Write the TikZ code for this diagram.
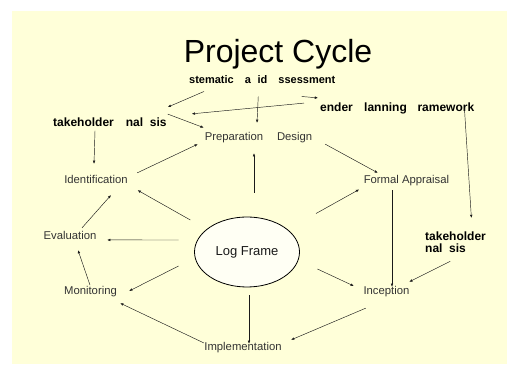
\documentclass[tikz,border=0pt]{standalone}
\usepackage{fontspec}
\setmainfont{Liberation Sans}
\usepackage{xcolor}
\usepackage{tikz}
\usetikzlibrary{arrows.meta,shapes.geometric}
\definecolor{pcpaper}{HTML}{FFFFD9}
\definecolor{pcpale}{HTML}{FFFFF4}
\definecolor{pcink}{HTML}{1A1A1A}
\definecolor{pcgrey}{HTML}{333333}

\tikzset{
  stagelbl/.style={anchor=base, inner sep=1pt, text=pcgrey, font=\fontsize{11.3}{13}\selectfont},
  notelbl/.style={anchor=base west, inner sep=1pt, text=black, font=\bfseries\fontsize{12}{12}\selectfont},
  cyclearrow/.style={draw=pcink, line width=0.45pt, -{Latex[length=3.2pt,width=2.6pt]}}
}

\begin{document}
\begin{tikzpicture}[x=1pt,y=-1pt]
  \useasboundingbox (0,0) rectangle (507,374);
  \fill[pcpaper] (12,11) rectangle (507,364);

  % Title
  \node[anchor=base, inner sep=1pt, font=\fontsize{32}{36}\selectfont] (title) at (278,63) {Project Cycle};

  % Notes (bold)
  \node[notelbl, font=\bfseries\fontsize{11}{12}\selectfont] (sra) at (188,84) {stematic \phantom{R}a\phantom{p}id \phantom{A}ssessment};
  \node[notelbl] (gpf) at (319,112) {ender \phantom{P}lanning \phantom{F}ramework};
  \node[notelbl] (shaL) at (52,127) {takeholder \phantom{A}nal\phantom{y}sis};
  \node[notelbl, anchor=north west, align=left] (shaR) at (424,231) {takeholder\\nal\phantom{y}sis};

  % Stages of the cycle
  \node[stagelbl] (prep) at (258.5,141) {Preparation \phantom{\&} Design};
  \node[stagelbl] (ident) at (96,184) {Identification};
  \node[stagelbl] (formal) at (406.5,184) {Formal Appraisal};
  \node[stagelbl] (eval) at (70,240) {Evaluation};
  \node[stagelbl] (monit) at (90.5,294.5) {Monitoring};
  \node[stagelbl] (incep) at (386.5,294.5) {Inception};
  \node[stagelbl] (impl) at (243,351) {Implementation};

  % Log frame in the middle
  \node[ellipse, draw=black, line width=0.8pt, fill=pcpale, minimum width=105pt, minimum height=70pt, inner sep=0pt,
        font=\fontsize{13}{15}\selectfont, text=pcink] (logf) at (247,252) {Log Frame};

  % Arrows between the notes
  \draw[cyclearrow] ([shift={(16pt,-4pt)}]sra.south west) -- ([yshift=10pt]shaL.north east);
  \draw[cyclearrow] ([shift={(-4pt,-9pt)}]sra.south) -- ([shift={(-1.5pt,8.75pt)}]prep.north);
  \draw[cyclearrow] ([shift={(-35pt,-9pt)}]sra.south east) -- ([shift={(-1pt,4.2pt)}]gpf.north west);
  \draw[cyclearrow] ([shift={(-15pt,-1pt)}]gpf.north west) -- ([shift={(-11.8pt,17.75pt)}]prep.north west);
  \draw[cyclearrow] ([yshift=3pt]shaL.north east) -- ([yshift=4pt]prep.north west);
  \draw[cyclearrow] ([xshift=43pt]shaL.south west) -- ([shift={(-2pt,10.75pt)}]ident.north);
  \draw[cyclearrow] ([shift={(-11pt,7.4pt)}]gpf.south east) -- ([shift={(-15.7pt,13pt)}]shaR.north east);
  \draw[cyclearrow] ([shift={(-5.35pt,-4.8pt)}]shaR.south) -- ([shift={(-1.4pt,3.25pt)}]incep.north east);

  % Arrows round the cycle
  \draw[cyclearrow] ([shift={(8.3pt,1.75pt)}]ident.north east) -- ([shift={(-5.8pt,0.4pt)}]prep.south west);
  \draw[cyclearrow] ([shift={(11.8pt,0.4pt)}]prep.south east) -- ([shift={(15.2pt,1.75pt)}]formal.north west);
  \draw[cyclearrow] ([shift={(-14.5pt,-2.6pt)}]formal.south) -- ([shift={(5.5pt,-1.75pt)}]incep.north);
  \draw[cyclearrow] ([shift={(3.4pt,-10.1pt)}]incep.south west) -- ([shift={(8.25pt,1.75pt)}]impl.north east);
  \draw[cyclearrow] ([shift={(0.75pt,5.1pt)}]impl.west) -- ([shift={(2.1pt,-5.1pt)}]monit.south east);
  \draw[cyclearrow] ([xshift=-0.5pt]monit.north) -- ([shift={(8pt,-8.85pt)}]eval.south);
  \draw[cyclearrow] ([shift={(12pt,2.75pt)}]eval.north) -- ([shift={(15pt,-9.8pt)}]ident.south);

  % Arrows out of the log frame
  \draw[cyclearrow] ([shift={(7pt,24pt)}]logf.north) -- ([shift={(-4.5pt,-8.6pt)}]prep.south);
  \draw[cyclearrow, shorten <=65pt, shorten >=10pt] (logf.center) -- (ident.south east);
  \draw[cyclearrow, shorten <=79pt, shorten >=4pt] (logf.center) -- (formal.south west);
  \draw[cyclearrow, shorten <=15.5pt] ([yshift=12pt]logf.west) -- ([shift={(9.6pt,-4pt)}]eval.east);
  \draw[cyclearrow] ([shift={(-15.5pt,-14pt)}]logf.west) -- ([shift={(11.1pt,0.6pt)}]monit.east);
  \draw[cyclearrow] ([shift={(17.5pt,-17pt)}]logf.east) -- ([shift={(-8.6pt,5.6pt)}]incep.west);
  \draw[cyclearrow] ([shift={(2pt,-8pt)}]logf.south) -- ([shift={(6pt,-2.25pt)}]impl.north);
\end{tikzpicture}
\end{document}
